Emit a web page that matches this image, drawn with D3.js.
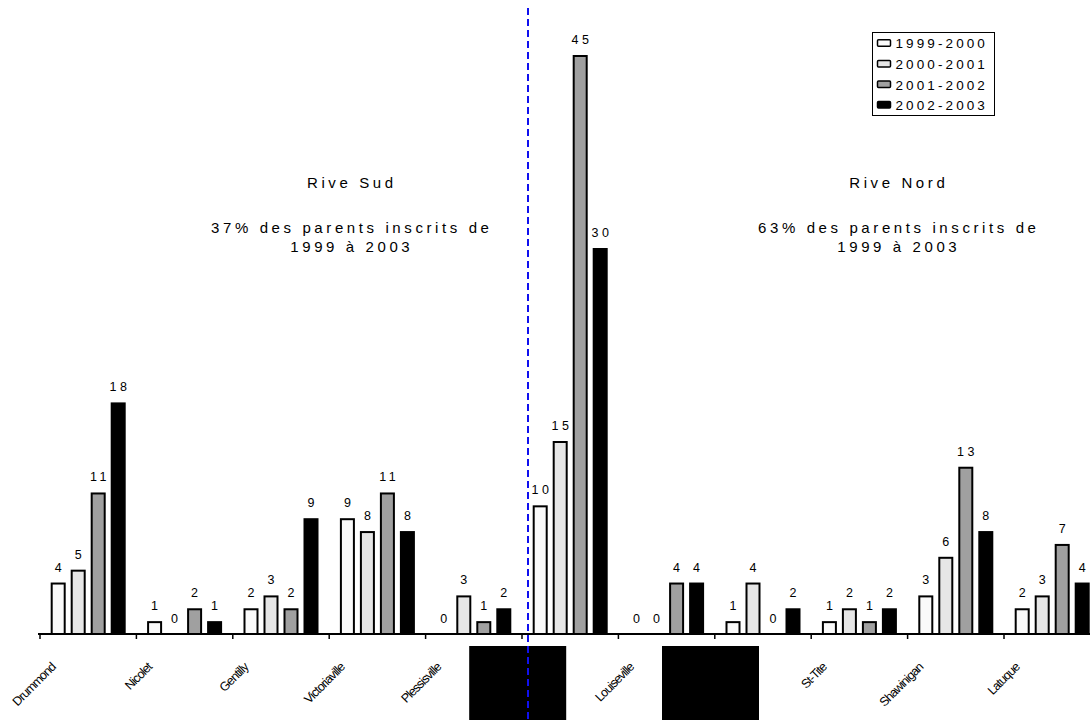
<!DOCTYPE html>
<html>
<head>
<meta charset="utf-8">
<script src="https://cdn.jsdelivr.net/npm/d3@7"></script>
<style>
  body { margin: 0; background: #fff; }
  svg { display: block; }
  text { font-family: "Liberation Sans", Arial, sans-serif; fill: #000; }
</style>
</head>
<body>
<svg id="chart" width="1090" height="720"></svg>
<script>
// Municipalities (null = masked label)
const categories = ["Drummond", "Nicolet", "Gentilly", "Victoriaville", "Plessisville", null,
                    "Louiseville", null, "St-Tite", "Shawinigan", "Latuque"];
const seriesNames = ["1999-2000", "2000-2001", "2001-2002", "2002-2003"];
const v19992000 = [4, 1, 2, 9, 0, 10, 0, 1, 1, 3, 2];
const v20002001 = [5, 0, 3, 8, 3, 15, 0, 4, 2, 6, 3];
const v20012002 = [11, 2, 2, 11, 1, 45, 4, 0, 1, 13, 7];
const v20022003 = [18, 1, 9, 8, 2, 30, 4, 2, 2, 8, 4];
const seriesColors = ["#fafafa", "#e6e6e6", "#a0a0a0", "#000000"];
const regionNames = ["Rive Sud", "Rive Nord"];
const regionShares = ["37% des parents inscrits de", "63% des parents inscrits de"];
const regionYears = ["1999 à 2003", "1999 à 2003"];

const seriesValues = [v19992000, v20002001, v20012002, v20022003];

const svg = d3.select("#chart");

const x = d3.scaleBand()
  .domain(d3.range(categories.length))
  .range([40, 1100.4])
  .padding(0);

const xs = d3.scaleBand()
  .domain(seriesNames)
  .range([0, x.bandwidth()])
  .paddingInner(0.25)
  .paddingOuter(0.535);

const y = d3.scaleLinear().domain([0, 45]).range([634, 55]);

const color = d3.scaleOrdinal().domain(seriesNames).range(seriesColors);

// Bars
const cells = [];
categories.forEach((c, i) => {
  seriesNames.forEach((s, j) => {
    cells.push({ i, s, v: seriesValues[j][i] });
  });
});

svg.append("g").selectAll("rect")
  .data(cells.filter(d => d.v > 0))
  .join("rect")
  .attr("x", d => x(d.i) + xs(d.s) + 1)
  .attr("y", d => y(d.v) + 1)
  .attr("width", xs.bandwidth() - 2)
  .attr("height", d => y(0) - y(d.v) - 1)
  .attr("fill", d => color(d.s))
  .attr("stroke", "#000")
  .attr("stroke-width", 2);

// Value labels
const labelSpacing = 3.5;
svg.append("g").selectAll("text")
  .data(cells)
  .join("text")
  .attr("x", d => x(d.i) + xs(d.s) + xs.bandwidth() / 2 + labelSpacing / 2)
  .attr("y", d => y(d.v) - 11)
  .attr("text-anchor", "middle")
  .style("font-size", "12.5px")
  .style("letter-spacing", labelSpacing + "px")
  .text(d => d.v);

// Category axis
const axis = svg.append("g");
axis.append("line")
  .attr("x1", x.range()[0] - 2).attr("x2", 1090)
  .attr("y1", y(0)).attr("y2", y(0))
  .attr("stroke", "#000").attr("stroke-width", 2);
axis.selectAll("line.tick")
  .data(d3.range(categories.length + 1))
  .join("line")
  .attr("class", "tick")
  .attr("x1", i => x.range()[0] + i * x.step())
  .attr("x2", i => x.range()[0] + i * x.step())
  .attr("y1", y(0)).attr("y2", y(0) + 5)
  .attr("stroke", "#000").attr("stroke-width", 1.5);

axis.selectAll("text")
  .data(categories.map((c, i) => ({ c, i })).filter(d => d.c !== null))
  .join("text")
  .attr("transform", d => `translate(${x(d.i) + x.bandwidth() / 2 - 32},668) rotate(-45)`)
  .attr("text-anchor", "end")
  .style("font-size", "12.5px")
  .style("letter-spacing", "-0.9px")
  .text(d => d.c);

// Masked labels
axis.selectAll("rect.mask")
  .data(categories.map((c, i) => ({ c, i })).filter(d => d.c === null))
  .join("rect")
  .attr("class", "mask")
  .attr("x", d => x(d.i) + x.bandwidth() / 2 - 101)
  .attr("y", 646)
  .attr("width", 97)
  .attr("height", 80)
  .attr("fill", "#000");

// Region annotations
const titleSpacing = 3.6;
const regionCenters = [350, 897];
regionNames.forEach((name, k) => {
  const g = svg.append("g")
    .attr("text-anchor", "middle")
    .style("font-size", "15px")
    .style("letter-spacing", titleSpacing + "px");
  const cx = regionCenters[k] + titleSpacing / 2;
  g.append("text").attr("x", cx).attr("y", 188).text(name);
  g.append("text").attr("x", cx).attr("y", 233).text(regionShares[k]);
  g.append("text").attr("x", cx).attr("y", 252).text(regionYears[k]);
});

// Legend
const legend = svg.append("g");
legend.append("rect")
  .attr("x", 872.5).attr("y", 32.5)
  .attr("width", 122).attr("height", 83)
  .attr("fill", "#fff").attr("stroke", "#000").attr("stroke-width", 1);
const items = legend.selectAll("g.item")
  .data(seriesNames)
  .join("g")
  .attr("class", "item")
  .attr("transform", (d, i) => `translate(0,${48.3 + i * 20.6})`);
items.append("rect")
  .attr("x", 877.5).attr("y", -8.5)
  .attr("width", 13).attr("height", 6.5)
  .attr("rx", 1)
  .attr("fill", d => color(d))
  .attr("stroke", "#000").attr("stroke-width", 1.5);
items.append("text")
  .attr("x", 895.5)
  .attr("y", 0)
  .style("font-size", "13.5px")
  .style("letter-spacing", "3.1px")
  .text(d => d);

// Divider between the two shores
const divX = x(5) + 6;
svg.append("line")
  .attr("x1", divX).attr("x2", divX)
  .attr("y1", 8).attr("y2", 720)
  .attr("stroke", "#1010ee")
  .attr("stroke-width", 2)
  .attr("stroke-dasharray", "7,4");
</script>
</body>
</html>
